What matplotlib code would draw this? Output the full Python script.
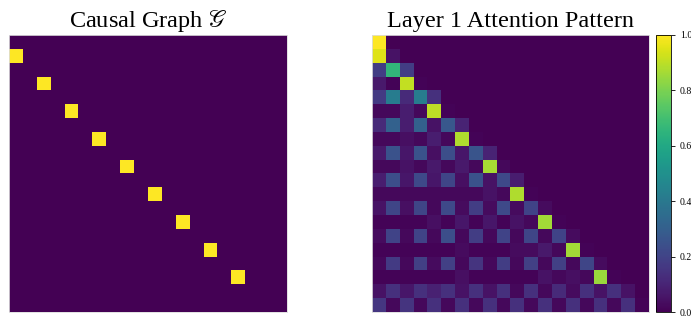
import numpy as np
import matplotlib
matplotlib.use("Agg")
import matplotlib.pyplot as plt

plt.rcParams['font.family'] = ['Liberation Serif', 'DejaVu Serif']
plt.rcParams['mathtext.fontset'] = 'stix'

N = 20
graph_rows = [1, 3, 5, 7, 9, 11, 13, 15, 17]
graph_cols = [0, 2, 4, 6, 8, 10, 12, 14, 16]

attn_rows = [
    [1.0],
    [0.95, 0.05],
    [0.18, 0.66, 0.18],
    [0.07, 0.01, 0.91, 0.01],
    [0.17, 0.42, 0.12, 0.42, 0.14],
    [0.02, 0.02, 0.08, 0.02, 0.90, 0.01],
    [0.12, 0.31, 0.08, 0.31, 0.05, 0.27, 0.10],
    [0.02, 0.02, 0.04, 0.02, 0.08, 0.02, 0.88, 0.01],
    [0.07, 0.25, 0.06, 0.25, 0.04, 0.24, 0.06, 0.26, 0.10],
    [0.02, 0.02, 0.05, 0.02, 0.07, 0.02, 0.07, 0.02, 0.87, 0.02],
    [0.08, 0.24, 0.06, 0.22, 0.06, 0.21, 0.04, 0.25, 0.05, 0.22, 0.08],
    [0.02, 0.02, 0.02, 0.02, 0.02, 0.02, 0.02, 0.02, 0.05, 0.02, 0.88, 0.01],
    [0.05, 0.21, 0.04, 0.21, 0.02, 0.22, 0.03, 0.18, 0.03, 0.22, 0.03, 0.20, 0.03],
    [0.01, 0.01, 0.01, 0.01, 0.04, 0.01, 0.06, 0.01, 0.06, 0.01, 0.05, 0.02, 0.86, 0.01],
    [0.03, 0.20, 0.02, 0.20, 0.02, 0.24, 0.02, 0.18, 0.02, 0.20, 0.02, 0.21, 0.02, 0.20, 0.03],
    [0.01, 0.01, 0.01, 0.01, 0.01, 0.01, 0.03, 0.01, 0.01, 0.01, 0.03, 0.03, 0.07, 0.02, 0.86, 0.01],
    [0.02, 0.17, 0.02, 0.19, 0.03, 0.19, 0.02, 0.15, 0.02, 0.18, 0.02, 0.19, 0.02, 0.19, 0.02, 0.21, 0.03],
    [0.01, 0.01, 0.01, 0.01, 0.01, 0.01, 0.04, 0.01, 0.01, 0.01, 0.01, 0.01, 0.05, 0.02, 0.04, 0.02, 0.85, 0.01],
    [0.05, 0.14, 0.06, 0.14, 0.09, 0.14, 0.05, 0.14, 0.05, 0.14, 0.02, 0.14, 0.02, 0.12, 0.03, 0.14, 0.05, 0.14, 0.05],
    [0.16, 0.02, 0.15, 0.02, 0.14, 0.02, 0.14, 0.02, 0.14, 0.02, 0.14, 0.02, 0.14, 0.02, 0.14, 0.02, 0.14, 0.02, 0.14, 0.01],
]
cbar_ticks = [0.0, 0.2, 0.4, 0.6, 0.8, 1.0]

graph = np.zeros((N, N))
graph[graph_rows, graph_cols] = 1.0
attn = np.zeros((N, N))
for r, vals in enumerate(attn_rows):
    attn[r, :len(vals)] = vals

W, H = 691, 320
fig = plt.figure(figsize=(W / 100, H / 100), dpi=100)
ax1 = fig.add_axes([9 / W, (H - 312) / H, 278 / W, 277 / H])
ax2 = fig.add_axes([372 / W, (H - 312) / H, 277 / W, 277 / H])
cax = fig.add_axes([656 / W, (H - 312) / H, 15 / W, 277 / H])

ax1.imshow(graph, cmap='viridis', vmin=0, vmax=1, aspect='auto', interpolation='nearest')
im = ax2.imshow(attn, cmap='viridis', vmin=0, vmax=1, aspect='auto', interpolation='nearest')

for ax in (ax1, ax2):
    ax.set_xticks([])
    ax.set_yticks([])
    for s in ax.spines.values():
        s.set_color('#dddddd')
        s.set_linewidth(0.6)

ax1.set_title(r'Causal Graph $\mathscr{G}$', fontsize=17.5, pad=6)
ax2.set_title('Layer 1 Attention Pattern', fontsize=17.5, pad=6)

cb = fig.colorbar(im, cax=cax, ticks=cbar_ticks)
cb.ax.tick_params(labelsize=7, length=3, width=0.6)
cb.outline.set_linewidth(0.6)
cb.ax.set_yticklabels([f'{t:.1f}' for t in cbar_ticks])

fig.savefig('out.png', dpi=100)
